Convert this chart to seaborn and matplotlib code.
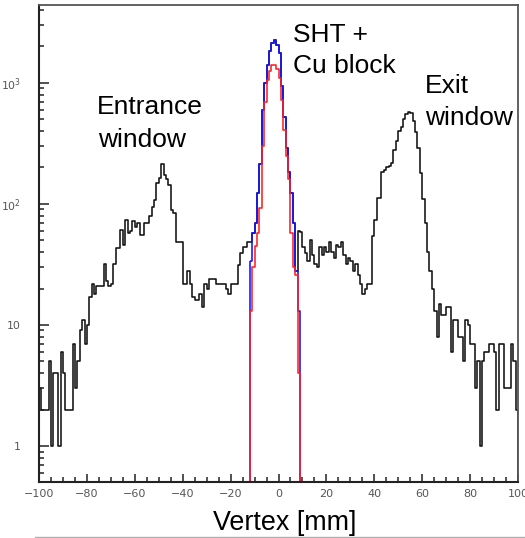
import numpy as np
import pandas as pd
import matplotlib
matplotlib.use("Agg")
import matplotlib.pyplot as plt
import seaborn as sns
from matplotlib.ticker import FixedLocator, MultipleLocator, NullFormatter, FixedFormatter
from matplotlib.lines import Line2D

# ---------------- data (1 mm bins) ----------------
bin_edges = list(range(-100, 101))          # full range edges
peak_edges = list(range(-12, 10))           # SHT + Cu block region edges

# all events, bins -100 ... -13
black_left = [3, 2, 2, 2, 5, 1, 4, 4, 1, 6,
              4, 2, 2, 2, 7, 3, 5, 9, 11, 7,
              10, 17, 22, 18, 21, 21, 21, 32, 23, 21,
              22, 32, 43, 43, 61, 46, 74, 57, 60, 72,
              65, 70, 55, 55, 70, 70, 80, 95, 108, 149,
              163, 214, 173, 160, 144, 89, 84, 48, 48, 48,
              22, 22, 28, 22, 17, 16, 16, 18, 14, 22,
              20, 24, 24, 24, 22, 22, 22, 22, 20, 18,
              22, 22, 22, 31, 39, 44, 44, 48]
# all events, bins -12 ... 8
black_mid = [48, 57, 70, 123, 215, 600, 1000, 1400, 1850, 2150, 2250,
             2050, 1750, 950, 520, 290, 185, 123, 70, 28, 60]
# all events, bins 9 ... 99
black_right = [59, 44, 39, 34, 50, 38, 32, 30, 44, 38, 44, 40,
               48, 40, 36, 46, 44, 48, 38, 32, 36, 34,
               28, 32, 26, 22, 18, 20, 22, 22, 54, 74,
               112, 112, 185, 190, 200, 205, 218, 280, 330, 400,
               430, 500, 550, 580, 560, 480, 390, 290, 180, 110,
               70, 40, 28, 20, 13, 8, 15, 12, 12, 14,
               14, 6, 11, 11, 8, 8, 5, 11, 10, 7,
               7, 3, 5, 1, 5, 6, 6, 7, 7, 6,
               2, 7, 7, 3, 3, 3, 7, 5, 2]
# SHT + Cu block (blue) and selected (red), bins -12 ... 8
blue_counts = [34, 57, 70, 123, 215, 600, 1000, 1400, 1850, 2150, 2250,
               2050, 1750, 950, 520, 290, 185, 123, 70, 28, 13]
red_counts = [13, 30, 45, 57, 93, 300, 700, 1050, 1250, 1400, 1400,
              1300, 1100, 720, 410, 250, 160, 58, 30, 26, 4]

y_tick_values = [1, 10, 100, 1000]
y_tick_labels = ["1", "10", r"$10^{2}$", r"$10^{3}$"]

black_counts = black_left + black_mid + black_right

edges_all = np.array(bin_edges, dtype=float)
edges_pk = np.array(peak_edges, dtype=float)
df_all = pd.DataFrame({"vertex": 0.5 * (edges_all[:-1] + edges_all[1:]),
                       "counts": black_counts})
df_pk = pd.DataFrame({"vertex": 0.5 * (edges_pk[:-1] + edges_pk[1:]),
                      "blue": blue_counts, "red": red_counts})

# ---------------- figure ----------------
W, H = 525, 538
fig = plt.figure(figsize=(W / 100, H / 100), dpi=100)
fig.patch.set_facecolor("white")
L, R, T, B = 39, 518, 5, 482
ax = fig.add_axes([L / W, 1 - B / H, (R - L) / W, (B - T) / H])
ax.set_yscale("log")

common = dict(element="step", fill=True, facecolor="none", linewidth=1.15, ax=ax)
sns.histplot(data=df_all, x="vertex", weights="counts", bins=bin_edges,
             color="#111111", **common)
sns.histplot(data=df_pk, x="vertex", weights="blue", bins=peak_edges,
             color="#1414ff", **common)
sns.histplot(data=df_pk, x="vertex", weights="red", bins=peak_edges,
             color="#ff2020", **common)

ax.set_xlim(-100, 100)
ax.set_ylim(0.504, 4400)
ax.set_xlabel("")
ax.set_ylabel("")

# ticks (ROOT-like, inward)
ax.xaxis.set_major_locator(MultipleLocator(20))
ax.xaxis.set_minor_locator(MultipleLocator(5))
ax.yaxis.set_major_locator(FixedLocator(y_tick_values))
ax.yaxis.set_major_formatter(FixedFormatter(y_tick_labels))
minors = [m * 10.0 ** e for e in range(-1, 4) for m in range(2, 10)]
minors = [v for v in minors if 0.5 <= v <= 4400]
ax.yaxis.set_minor_locator(FixedLocator(minors))
ax.yaxis.set_minor_formatter(NullFormatter())

ax.tick_params(axis="both", which="both", direction="in", top=False, right=False,
               colors="#222222", labelcolor="#555555", width=1.1)
ax.tick_params(axis="x", which="major", length=6, pad=5, labelsize=8)
ax.tick_params(axis="x", which="minor", length=3.5)
ax.tick_params(axis="y", which="major", length=7, pad=13, labelsize=7.8)
ax.tick_params(axis="y", which="minor", length=3.5)
for lab in ax.get_xticklabels() + ax.get_yticklabels():
    lab.set_fontfamily("DejaVu Sans")

for side in ["left", "bottom"]:
    ax.spines[side].set_linewidth(1.5)
    ax.spines[side].set_color("#222222")
for side in ["top", "right"]:
    ax.spines[side].set_linewidth(1.3)
    ax.spines[side].set_color("#555555")

# annotations (pixel positions -> figure fraction)
def ftext(x, y, s, size=19, **kw):
    fig.text(x / W, 1 - y / H, s, fontsize=size, family="Liberation Sans",
             color="black", va="baseline", **kw)

ftext(97, 114.5, "Entrance")
ftext(98, 147, "window")
ftext(293, 42, "SHT +")
ftext(293, 73, "Cu block")
ftext(425, 93, "Exit")
ftext(425, 125, "window")
ftext(285, 530, "Vertex [mm]", size=19.4, ha="center")

fig.add_artist(Line2D([35 / W, 1.0], [1 - 536.5 / H, 1 - 536.5 / H],
                      transform=fig.transFigure, color="#b0b0b0", linewidth=1.0))

fig.savefig("out.png", dpi=100, facecolor="white")
